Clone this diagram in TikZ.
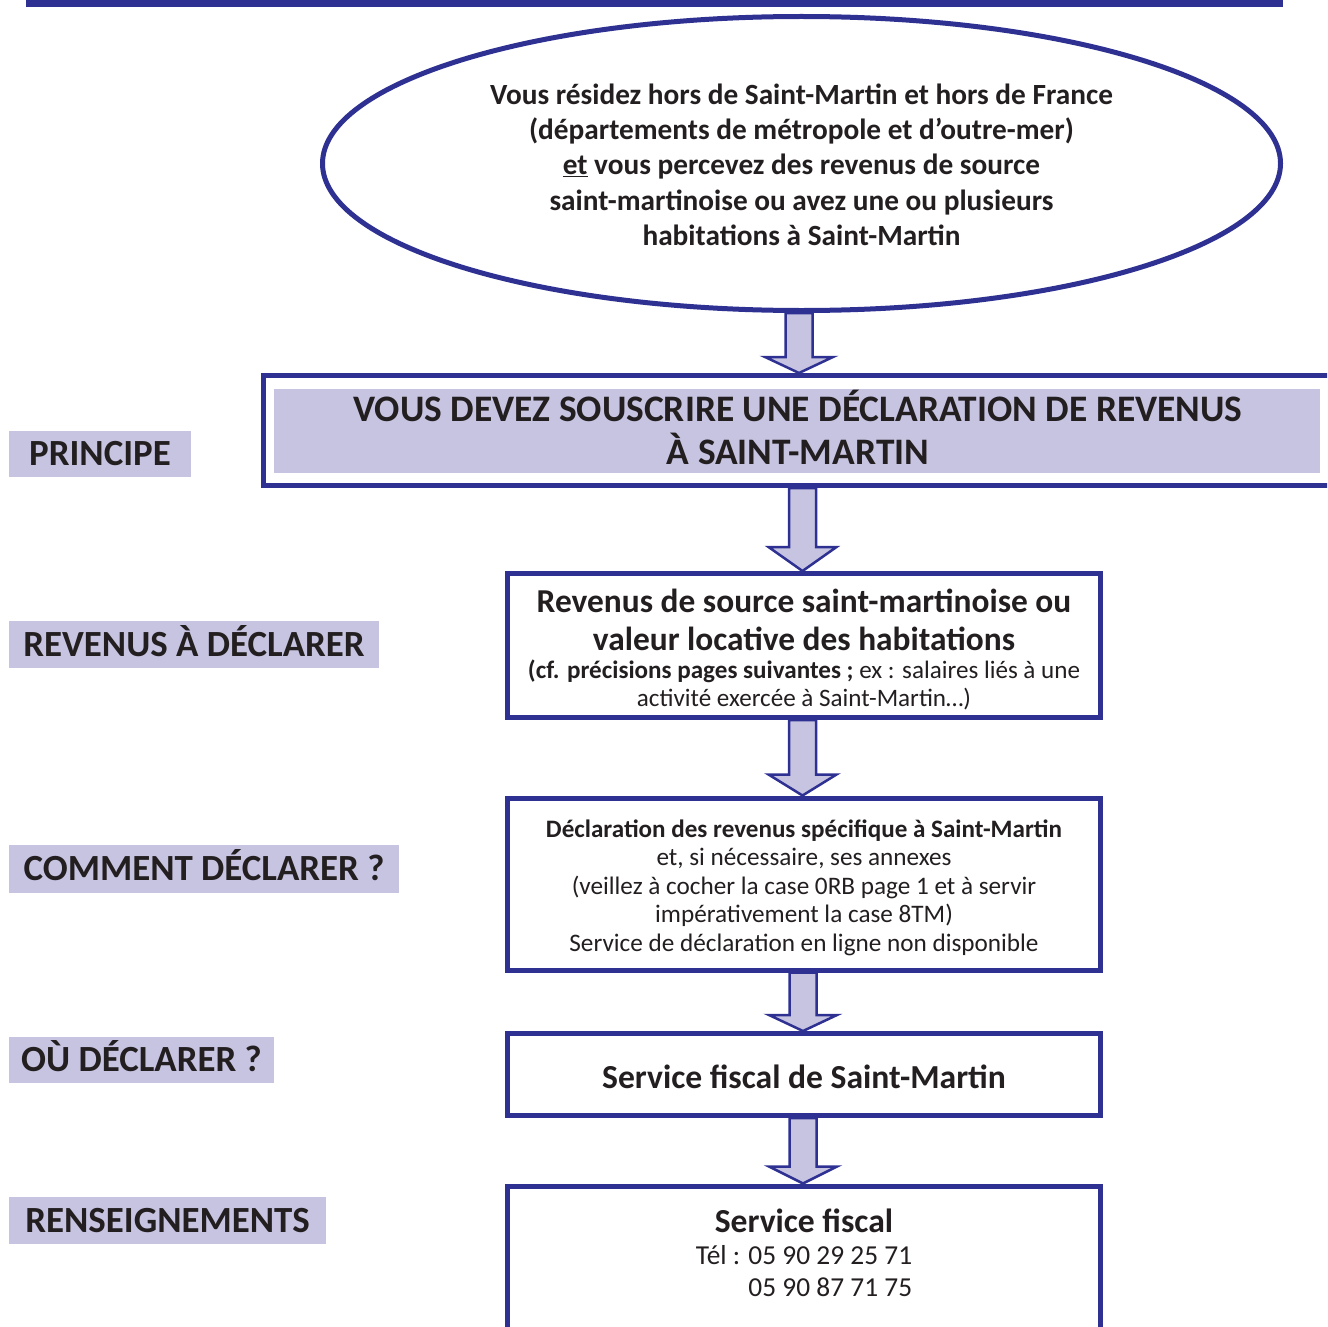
\documentclass[tikz,border=0pt]{standalone}
\usepackage{fontspec}
\setmainfont{Carlito}
\usetikzlibrary{calc,shapes.geometric}
\definecolor{dblue}{HTML}{2E3192}
\definecolor{lav}{HTML}{C7C4E2}
\definecolor{ink}{HTML}{231F20}
\newcommand\fsz[1]{\fontsize{#1}{#1}\selectfont}
% block arrow: source node, target node, x centre, head length
\newcommand\blockarrow[4]{%
  \path[arrowsty] let \p1=(#1.south), \p2=(#2.north) in
    ({#3pt-13.5pt},\y1) -- ({#3pt-13.5pt},{\y2+#4pt}) -- ({#3pt-34pt},{\y2+#4pt})
    -- (#3pt,\y2) -- ({#3pt+34pt},{\y2+#4pt}) -- ({#3pt+13.5pt},{\y2+#4pt})
    -- ({#3pt+13.5pt},\y1) -- cycle;}
\begin{document}
\begin{tikzpicture}[x=1pt,y=-1pt,
  every node/.style={text=ink},
  frame/.style={draw=dblue,line width=5pt,inner sep=0pt,fill=white},
  labelbox/.style={fill=lav,inner sep=0pt,text height=23.5pt,text depth=0pt,
    font=\fsz{36.9}\bfseries},
  txt/.style={anchor=base,inner sep=0pt},
  arrowsty/.style={draw=dblue,fill=lav,line width=2.5pt,line join=miter}]
\useasboundingbox (0,0) rectangle (1327,1327);
\clip (0,0) rectangle (1327,1327);
% top bar
\fill[dblue] (26,-2) rectangle (1283,7);
% ellipse
\node[ellipse,frame,minimum width=958pt,minimum height=294pt] (ell) at (801.5,163.5) {};
\begin{scope}[every node/.append style={txt,font=\fsz{29.3}\bfseries}]
\node (e1) at (801.5,104.5) {Vous résidez hors de Saint-Martin et hors de France};
\node (e2) at (801.5,139.5) {(départements de métropole et d’outre-mer)};
\node (e3) at (801.5,174.5) {\underline{et} vous percevez des revenus de source};
\node (e4) at (801.5,210) {saint-martinoise ou avez une ou plusieurs};
\node (e5) at (801.5,245) {habitations à Saint-Martin};
\end{scope}
% title
\node[frame,minimum width=1087pt,minimum height=110pt] (title) at (806.5,430.5) {};
\node[fill=lav,inner sep=0pt,minimum width=1046pt,minimum height=84pt] (titlefill) at (797,431) {};
\node[txt,font=\fsz{37.4}\bfseries] (t1) at (798,421.5) {VOUS DEVEZ SOUSCRIRE UNE DÉCLARATION DE REVENUS};
\node[txt,font=\fsz{37.4}\bfseries] (t2) at (798,464.5) {À SAINT-MARTIN};
% box 2
\node[frame,minimum width=593pt,minimum height=144pt] (b2) at (804,645.5) {};
\node[txt,font=\fsz{33.4}\bfseries] (b2a) at (804,612) {Revenus de source saint-martinoise ou};
\node[txt,font=\fsz{33.4}\bfseries] (b2b) at (804,650.5) {valeur locative des habitations};
\node[txt,font=\fsz{25.1}] (b2c) at (804,678) {\textbf{(cf. précisions pages suivantes ;} ex : salaires liés à une};
\node[txt,font=\fsz{25.1}] (b2d) at (804,706) {activité exercée à Saint-Martin…)};
% box 3
\node[frame,minimum width=593pt,minimum height=172pt] (b3) at (804,884) {};
\node[txt,font=\fsz{25.1}\bfseries] (b3a) at (804,837) {Déclaration des revenus spécifique à Saint-Martin};
\node[txt,font=\fsz{25.2}] (b3b) at (804,865) {et, si nécessaire, ses annexes};
\node[txt,font=\fsz{25.2}] (b3c) at (804,894) {(veillez à cocher la case 0RB page 1 et à servir};
\node[txt,font=\fsz{25.2}] (b3d) at (804,922) {impérativement la case 8TM)};
\node[txt,font=\fsz{25.2}] (b3e) at (804,951) {Service de déclaration en ligne non disponible};
% box 4
\node[frame,minimum width=593pt,minimum height=82pt] (b4) at (804,1074.5) {};
\node[txt,font=\fsz{33.6}\bfseries] (b4a) at (804,1088) {Service fiscal de Saint-Martin};
% box 5
\node[frame,minimum width=593pt,minimum height=220pt] (b5) at (804,1296) {};
\node[txt,font=\fsz{33.6}\bfseries] (b5a) at (804,1232) {Service fiscal};
\node[txt,font=\fsz{27.4}] (b5b) at (804,1264.5) {Tél : 05 90 29 25 71};
\node[txt,font=\fsz{27.4}] (b5c) at (804,1296.5) {\phantom{Tél : }05 90 87 71 75};
% arrows
\blockarrow{ell}{title}{799}{16}
\blockarrow{title}{b2}{802.5}{24}
\blockarrow{b2}{b3}{802.5}{21}
\blockarrow{b3}{b4}{803}{16}
\blockarrow{b4}{b5}{803}{17}
% left labels
\node[labelbox,minimum width=182pt,minimum height=46pt] (l1) at (100,454) {PRINCIPE};
\node[labelbox,minimum width=370pt,minimum height=47pt] (l2) at (194,644.5) {REVENUS À DÉCLARER};
\node[labelbox,minimum width=390pt,minimum height=48pt] (l3) at (204,869) {COMMENT DÉCLARER ?};
\node[labelbox,minimum width=265pt,minimum height=46pt] (l4) at (141.5,1060) {OÙ DÉCLARER ?};
\node[labelbox,minimum width=317pt,minimum height=47pt] (l5) at (167.5,1220.5) {RENSEIGNEMENTS};
\end{tikzpicture}
\end{document}
